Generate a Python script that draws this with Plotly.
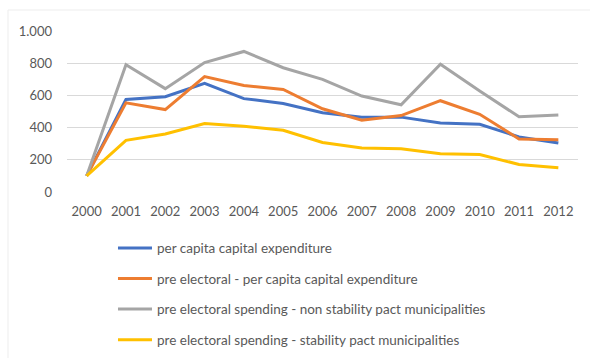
import plotly.graph_objects as go

years = [2000, 2001, 2002, 2003, 2004, 2005, 2006, 2007, 2008, 2009, 2010, 2011, 2012]

per_capita = [100, 575, 592, 675, 580, 550, 492, 465, 465, 429, 421, 342, 304]
pre_electoral = [100, 554, 512, 717, 662, 637, 517, 446, 475, 567, 483, 329, 325]
non_stability = [100, 790, 642, 804, 873, 772, 700, 596, 542, 794, 627, 467, 479]
stability = [100, 321, 360, 425, 408, 383, 308, 273, 269, 237, 233, 171, 150]

series_names = [
    "per capita capital expenditure",
    "pre electoral - per capita capital expenditure",
    "pre electoral spending - non stability pact municipalities",
    "pre electoral spending - stability pact municipalities",
]
series_values = [per_capita, pre_electoral, non_stability, stability]
series_colors = ["#4472C4", "#ED7D31", "#A5A5A5", "#FFC000"]

y_ticks = [0, 200, 400, 600, 800, 1000]

fig = go.Figure()
for i, (name, vals, col) in enumerate(zip(series_names, series_values, series_colors)):
    fig.add_trace(go.Scatter(
        x=years, y=vals, name=name, mode="lines",
        line=dict(color=col, width=3),
        legendgroup=f"g{i}",
    ))

fig.update_layout(
    width=590, height=358,
    margin=dict(l=67, r=12, t=31, b=166, autoexpand=False),
    paper_bgcolor="white", plot_bgcolor="white",
    separators=",.",
    font=dict(family="Lato, Liberation Sans, sans-serif", size=13, color="#595959"),
    showlegend=True,
    legend=dict(
        xref="container", yref="container",
        x=0.1915, y=0.350, xanchor="left", yanchor="top",
        orientation="v", tracegroupgap=10, itemwidth=34,
        font=dict(size=13.5, color="#595959"),
        bgcolor="rgba(0,0,0,0)",
    ),
    xaxis=dict(
        range=[1999.5, 2012.5], tickmode="array", tickvals=years,
        showgrid=False, zeroline=False, showline=False, ticks="",
        ticklabelstandoff=10, automargin=False,
    ),
    yaxis=dict(
        range=[0, 1000], tickmode="array", tickvals=y_ticks, tickformat=",d",
        showgrid=True, gridcolor="#D9D9D9", gridwidth=1,
        zeroline=False, showline=False, ticks="", ticklabelstandoff=14,
        automargin=False,
    ),
    shapes=[dict(
        type="rect", xref="paper", yref="paper",
        x0=-59 / 511, x1=1.2, y0=-2.0, y1=1 + 21 / 161,
        line=dict(color="#EDEDED", width=1), layer="below",
    )],
)

fig.write_html("out.html")
